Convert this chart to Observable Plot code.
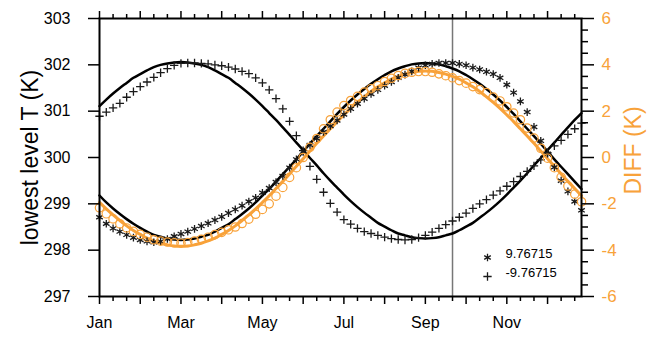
<!DOCTYPE html>
<html><head><meta charset="utf-8">
<script src="https://cdn.jsdelivr.net/npm/d3@7"></script>
<script src="https://cdn.jsdelivr.net/npm/@observablehq/plot@0.6"></script>
<style>html,body{margin:0;padding:0;background:#fff}</style>
</head><body><div id="chart"></div>
<script>
// day of a 360-day year (pentads)
const days = [0,5,10,15,20,25,30,35,40,45,50,55,60,65,70,75,80,85,90,95,100,105,110,115,120,125,130,135,140,145,150,155,160,165,170,175,180,185,190,195,200,205,210,215,220,225,230,235,240,245,250,255,260,265,270,275,280,285,290,295,300,305,310,315,320,325,330,335,340,345,350,355];

// black solid curves (lowest level T, K)
const lineA = [301.11,301.25,301.38,301.50,301.61,301.72,301.80,301.88,301.95,302.00,302.03,302.05,302.06,
  302.05,302.03,302.00,301.95,301.88,301.80,301.72,301.61,301.50,301.38,301.25,301.11,
  300.96,300.81,300.65,300.49,300.32,300.16,299.99,299.83,299.66,299.50,299.35,299.20,299.06,298.93,298.81,298.70,298.59,298.51,298.43,298.36,298.32,298.28,298.26,298.25,
  298.26,298.28,298.32,298.36,298.43,298.51,298.59,298.70,298.81,298.93,299.06,299.20,299.35,299.50,299.66,299.83,299.99,300.16,300.32,300.49,300.65,300.81,300.96];
const lineB = [299.18,299.03,298.90,298.78,298.67,298.57,298.48,298.40,298.33,298.29,298.25,298.23,298.22,
  298.23,298.25,298.29,298.33,298.40,298.48,298.56,298.67,298.78,298.90,299.03,299.18,
  299.32,299.48,299.64,299.80,299.96,300.13,300.30,300.46,300.62,300.78,300.94,301.09,301.23,301.36,301.48,301.59,301.69,301.78,301.86,301.92,301.97,302.01,302.03,302.04,
  302.03,302.01,301.97,301.92,301.86,301.78,301.69,301.59,301.48,301.36,301.23,301.09,300.94,300.78,300.62,300.46,300.30,300.13,299.96,299.80,299.64,299.48,299.32];
// orange curve (DIFF, K)
const lineDiff = [-1.94,-2.22,-2.48,-2.72,-2.95,-3.15,-3.32,-3.48,-3.60,-3.70,-3.77,-3.82,-3.83,
  -3.82,-3.77,-3.70,-3.60,-3.48,-3.32,-3.15,-2.95,-2.72,-2.48,-2.22,-1.94,
  -1.65,-1.34,-1.03,-0.71,-0.38,-0.05,0.28,0.61,0.93,1.24,1.55,1.84,2.12,2.38,2.62,2.85,3.05,3.22,3.38,3.50,3.60,3.67,3.72,3.73,
  3.72,3.67,3.60,3.50,3.38,3.22,3.05,2.85,2.62,2.38,2.12,1.84,1.55,1.24,0.93,0.61,0.28,-0.05,-0.38,-0.71,-1.03,-1.34,-1.65];
// markers
const plusSeries = [300.89,300.98,301.07,301.17,301.30,301.42,301.53,301.63,301.73,301.83,301.92,301.99,302.03,302.04,
  302.04,302.03,302.02,302.00,301.98,301.95,301.91,301.86,301.81,301.72,301.61,301.46,301.27,301.05,300.78,
  300.47,300.15,299.81,299.53,299.25,299.01,298.82,298.66,298.56,298.47,298.40,298.36,298.32,298.28,298.25,298.23,298.22,
  298.23,298.27,298.32,298.39,298.47,298.55,298.63,298.71,298.80,298.90,299.00,299.09,299.19,299.28,299.38,299.48,299.59,299.70,299.82,299.95,300.10,300.25,300.37,300.50,300.62,300.74];
const starSeries = [298.71,298.57,298.47,298.40,298.33,298.27,298.22,298.19,298.17,298.19,298.24,298.30,298.35,298.40,
  298.46,298.52,298.58,298.65,298.72,298.80,298.88,298.96,299.05,299.13,299.24,299.34,299.47,299.60,299.78,
  299.96,300.12,300.27,300.41,300.55,300.68,300.80,300.93,301.05,301.16,301.27,301.37,301.46,301.55,301.63,301.72,301.79,
  301.86,301.94,301.99,302.02,302.04,302.04,302.04,302.02,301.99,301.94,301.90,301.85,301.80,301.72,301.57,301.40,301.21,300.98,300.66,300.36,300.08,299.79,299.50,299.27,299.05,298.86];
const circleDiff = [-2.17,-2.43,-2.65,-2.86,-3.04,-3.19,-3.32,-3.44,-3.55,-3.61,-3.65,-3.68,-3.70,-3.67,
  -3.61,-3.53,-3.44,-3.33,-3.23,-3.12,-3.00,-2.85,-2.66,-2.45,-2.24,-2.00,-1.67,-1.29,-0.86,
  -0.44,0.00,0.44,0.82,1.24,1.63,1.96,2.24,2.46,2.64,2.82,2.97,3.10,3.28,3.42,3.54,3.63,
  3.68,3.71,3.71,3.68,3.61,3.53,3.44,3.32,3.21,3.06,2.93,2.80,2.61,2.44,2.19,1.92,1.63,1.27,0.84,0.40,-0.03,-0.44,-0.85,-1.23,-1.58,-1.91];

const markerDay = [260];
const monthStarts = [0,30,60,90,120,150,180,210,240,270,300,330];
const monthNames = ["Jan","Feb","Mar","Apr","May","Jun","Jul","Aug","Sep","Oct","Nov","Dec"];
const minorDays = [10,20,40,50,70,80,100,110,130,140,160,170,190,200,220,230,250,260,280,290,310,320,340,350];
const leftTicks = [297,298,299,300,301,302,303];
const rightMinor = [297.25,297.5,297.75,298.25,298.5,298.75,299.25,299.5,299.75,300.25,300.5,300.75,301.25,301.5,301.75,302.25,302.5,302.75];
const legendLabels = ["9.76715","-9.76715"];
const legendSymbols = ["asterisk","plus"];

const ORANGE = "#f8a23a";
const INK = "#1a1a1a";
const FONT = "'Liberation Sans', Arial, Helvetica, sans-serif";
// DIFF (right axis, -6..6) shares the frame with T (left axis, 297..303)
const diffToT = v => 300 + v / 2;

const rows = days.map((t, i) => ({t, a: lineA[i], b: lineB[i], d: lineDiff[i], p: plusSeries[i], s: starSeries[i], c: circleDiff[i]}));

const legendMarks = legendLabels.flatMap((lab, i) => [
  Plot.dot([lab], {frameAnchor: "bottom-right", dx: -94, dy: -39 + i * 19, symbol: legendSymbols[i], r: legendSymbols[i] === "plus" ? 2.8 : 3.6, stroke: INK, strokeWidth: 1.3}),
  Plot.text([lab], {frameAnchor: "bottom-right", dx: -76, dy: -39 + i * 19, text: d => d, textAnchor: "start", fontSize: 13, fill: "#000"})
]);

const chart = Plot.plot({
  width: 650, height: 337,
  marginLeft: 99, marginRight: 69, marginTop: 18, marginBottom: 41,
  style: {fontFamily: FONT, background: "#fff", color: "#000"},
  x: {domain: [0, 355], axis: null, label: null},
  y: {domain: [297, 303], axis: null, label: null},
  marks: [
    Plot.ruleX(markerDay, {stroke: "#777", strokeWidth: 1.5}),
    Plot.line(rows, {x: "t", y: "a", stroke: "#000", strokeWidth: 2.5, curve: "catmull-rom"}),
    Plot.line(rows, {x: "t", y: "b", stroke: "#000", strokeWidth: 2.5, curve: "catmull-rom"}),
    Plot.line(rows, {x: "t", y: r => diffToT(r.d), stroke: ORANGE, strokeWidth: 3, curve: "catmull-rom"}),
    Plot.dot(rows, {x: "t", y: "p", symbol: "plus", r: 2.8, stroke: INK, strokeWidth: 1.3}),
    Plot.dot(rows, {x: "t", y: "s", symbol: "asterisk", r: 3.6, stroke: INK, strokeWidth: 1.3}),
    Plot.dot(rows, {x: "t", y: r => diffToT(r.c), r: 4.2, stroke: ORANGE, strokeWidth: 1.2, fill: "none"}),
    Plot.frame({stroke: "#000", strokeWidth: 2}),
    // left axis
    Plot.axisY(leftTicks, {anchor: "left", tickSize: 11, tickPadding: 18, fontSize: 16, label: null, strokeWidth: 1.5}),
    // right axis (DIFF)
    Plot.axisY(rightMinor, {anchor: "right", tickSize: 6, tickFormat: () => "", label: null, strokeWidth: 1.5}),
    Plot.axisY(leftTicks, {anchor: "right", tickSize: 12, tickFormat: () => "", label: null, strokeWidth: 1.5}),
    Plot.axisY(leftTicks, {anchor: "right", tickSize: 0, tickPadding: 20, fontSize: 17, color: ORANGE, label: null, tickFormat: v => String((v - 300) * 2)}),
    // bottom / top month axes
    Plot.axisX(monthStarts, {anchor: "bottom", tickSize: 8, tickPadding: 12, fontSize: 16, label: null, strokeWidth: 1.5,
      tickFormat: d => (d / 30) % 2 === 0 ? monthNames[d / 30] : ""}),
    Plot.axisX(minorDays, {anchor: "bottom", tickSize: 5, tickFormat: () => "", label: null, strokeWidth: 1.5}),
    Plot.axisX(monthStarts, {anchor: "top", tickSize: 8, tickFormat: () => "", label: null, strokeWidth: 1.5}),
    Plot.axisX(minorDays, {anchor: "top", tickSize: 5, tickFormat: () => "", label: null, strokeWidth: 1.5}),
    // axis titles
    Plot.text(["lowest level T (K)"], {frameAnchor: "left", dx: -69, rotate: -90, textAnchor: "middle", text: d => d, fontSize: 23, fill: "#000"}),
    Plot.text(["DIFF (K)"], {frameAnchor: "right", dx: 52, dy: -7, rotate: -90, textAnchor: "middle", text: d => d, fontSize: 23, fill: ORANGE}),
    ...legendMarks
  ]
});
document.getElementById("chart").appendChild(chart);
</script>
</body></html>
